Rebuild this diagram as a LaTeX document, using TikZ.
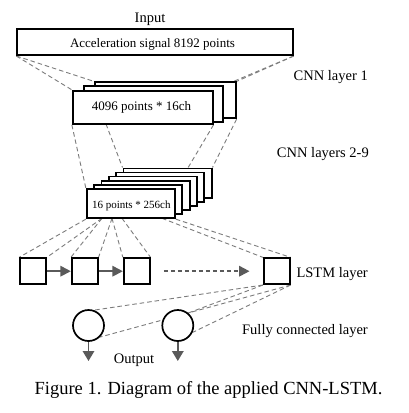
\documentclass[tikz,border=0pt]{standalone}
\usepackage{fontspec}
\setmainfont{Liberation Serif}
\usetikzlibrary{arrows.meta,backgrounds}
\definecolor{dgray}{HTML}{7C7C7C}
\definecolor{agray}{HTML}{5A5A5A}
\begin{document}
\begin{tikzpicture}[x=1pt,y=-1pt,
  box/.style={draw=black,line width=1.7pt,fill=white,inner sep=0pt},
  circ/.style={circle,draw=black,line width=1.7pt,fill=white,inner sep=0pt,minimum size=31pt},
  dline/.style={draw=dgray,line width=0.9pt,dash pattern=on 4.5pt off 3pt},
  arr/.style={draw=agray,color=agray,line width=1.8pt,-{Triangle[length=10.5pt,width=10.5pt]}},
  outarr/.style={draw=agray,color=agray,line width=1.8pt,-{Triangle[length=10pt,width=11.5pt]}},
  lbl/.style={inner sep=0pt,font=\fontsize{14.5}{17}\selectfont},
  txtA/.style={inner sep=0pt,font=\fontsize{13}{15}\selectfont},
  txtB/.style={inner sep=0pt,font=\fontsize{11}{13}\selectfont}]
\useasboundingbox (0,0) rectangle (408,413);

% Input
\node[lbl,anchor=base] (inlbl) at (150,22) {Input};
\node[box,line width=2pt,minimum width=275.4pt,minimum height=25.7pt] (in) at (155,42.15) {};
\node[txtA,anchor=base] (intext) at (152.5,47.9) {Acceleration signal 8192 points};

% CNN layer 1 stack
\node[box,minimum width=140.7pt,minimum height=36pt] (s1c) at (165.35,100.3) {};
\node[box,minimum width=138.4pt,minimum height=35.7pt] (s1b) at (153.5,103.85) {};
\node[box,minimum width=140pt,minimum height=33.3pt] (s1a) at (142.7,107.35) {};
\node[txtA,anchor=base] (s1text) at (141.5,110.5) {4096 points * 16ch};
\node[lbl,anchor=base east] (cnn1) at (368,80) {CNN layer 1};

% CNN layers 2-9 stack
\foreach \k in {5,4,3,2,1}
  \node[box,minimum width=88.3pt,minimum height=29.3pt] (s2-\k) at ({130.85+7.33*\k},{203.65-4.13*\k}) {};
\node[box,minimum width=88.3pt,minimum height=29.3pt] (s2a) at (130.85,203.65) {};
\node[txtB,anchor=base] (s2text) at (131.3,208.3) {16 points * 256ch};
\node[lbl,anchor=base east] (cnn2) at (369,157) {CNN layers 2-9};

% LSTM layer
\node[box,line width=2pt,minimum size=25.7pt] (l1) at (33,271.2) {};
\node[box,line width=2pt,minimum size=25.7pt] (l2) at (84.7,271.2) {};
\node[box,line width=2pt,minimum size=25.7pt] (l3) at (136.7,271.2) {};
\node[box,line width=2pt,minimum size=25.7pt] (l4) at (276.7,271.2) {};
\node[lbl,anchor=base east] (lstm) at (368,277) {LSTM layer};

\draw[arr] (l1.east) -- (l2.west);
\draw[arr] (l2.east) -- (l3.west);
\draw[arr,dash pattern=on 4.5pt off 2.5pt,shorten <=13.4pt,shorten >=13.3pt] (l3.east) -- (l4.west);

% Fully connected layer
\node[circ] (c1) at (88.5,325.5) {};
\node[circ] (c2) at (177.8,325.5) {};
\node[lbl,anchor=base east] (fc) at (368,334) {Fully connected layer};
\coordinate (o1) at (88.5,361);
\coordinate (o2) at (177.8,361);
\draw[outarr] (c1.south) -- (o1);
\draw[outarr] (c2.south) -- (o2);
\node[lbl,anchor=base] (out) at (134,363) {Output};

% Caption
\node[inner sep=0pt,anchor=base,font=\fontsize{18.5}{22}\selectfont] (cap) at (208.5,394) {Figure 1. Diagram of the applied CNN-LSTM.};

% dashed connections
\coordinate (p1) at (106,124);
\coordinate (q1) at (102,218.3);
\coordinate (q2) at (112,218.3);
\coordinate (q3) at (122,218.3);
\coordinate (q4) at (162,218.3);
\begin{scope}[on background layer]
\fill[white] (0,0) rectangle (408,413);
\draw[dline] (in.south west) -- (s1a.north west);
\draw[dline] (in.south west) -- (s1c.north west);
\draw[dline] (in.south east) -- (s1a.north east);
\draw[dline] (in.south east) -- (s1c.north east);
\draw[dline] (s1a.south west) -- (s2a.north west);
\draw[dline] (p1) -- (s2-5.north west);
\draw[dline] (s1a.south east) -- (s2a.north east);
\draw[dline] (s1c.south east) -- (s2-5.north east);
\draw[dline] (s2a.south west) -- (l1.north west);
\draw[dline] (q1) -- (l1.north east);
\draw[dline] (q1) -- (l2.north west);
\draw[dline] (q2) -- (l2.north east);
\draw[dline] (q2) -- (l3.north west);
\draw[dline] (q3) -- (l3.north east);
\draw[dline] (q4) -- (l4.north west);
\draw[dline] (s2a.south east) -- (l4.north east);
\draw[dline] (l4.south west) -- (c1.70);
\draw[dline] (l4.south east) -- (c1.-45);
\draw[dline] (l4.south west) -- (c2.50);
\draw[dline] (l4.south east) -- (c2.-25);
\end{scope}
\end{tikzpicture}
\end{document}
